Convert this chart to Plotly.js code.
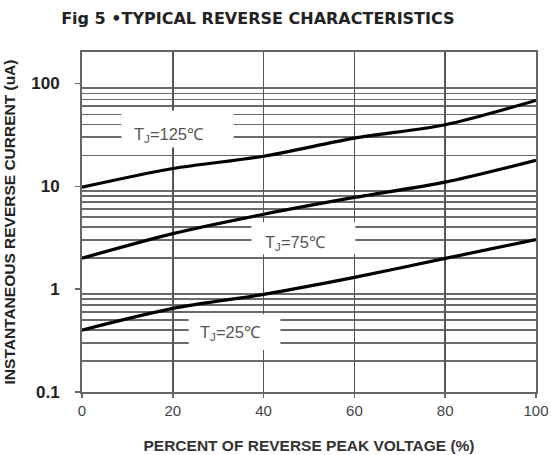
<!DOCTYPE html>
<html>
<head>
<meta charset="utf-8">
<script src="https://cdn.plot.ly/plotly-3.0.1.min.js"></script>
<style>html,body{margin:0;padding:0;background:#fff;}#chart{width:551px;height:455px;}</style>
</head>
<body>
<div id="chart"></div>
<script>
// Percent of reverse peak voltage (%)
const voltagePct = [0, 20, 40, 60, 80, 100];
// Instantaneous reverse current (uA)
const current125 = [9.8, 14.9, 19.6, 29.4, 39.7, 68.4];
const current75 = [2.0, 3.47, 5.35, 7.8, 11.0, 17.9];
const current25 = [0.40, 0.65, 0.89, 1.30, 1.99, 3.04];
const seriesLabels = ['T<sub>J</sub>=125℃', 'T<sub>J</sub>=75℃', 'T<sub>J</sub>=25℃'];
// Label text anchors (x %, current uA)
const labelX = [19.1, 47.0, 32.7];
const labelY = [31.3, 2.8, 0.374];
// White label backgrounds (x %, current uA)
const boxX0 = [8.7, 37.3, 23.5];
const boxX1 = [33.4, 60.2, 43.7];
const boxY0 = [23.9, 2.19, 0.256];
const boxY1 = [54.7, 4.47, 0.571];
const xTickVals = [0, 20, 40, 60, 80, 100];
const yTickVals = [0.1, 1, 10, 100];
const yTickText = ['0.1', '1', '10', '100'];
const yMinorVals = [];
[0.1, 1, 10].forEach(d => { for (let k = 2; k <= 9; k++) yMinorVals.push(+(d * k).toPrecision(3)); });

const lineStyle = {color: '#000', width: 3.2, shape: 'spline', smoothing: 0.8};
const traces = [current125, current75, current25].map(ys => ({
  x: voltagePct, y: ys, type: 'scatter', mode: 'lines', line: lineStyle,
  hoverinfo: 'skip', showlegend: false
}));

const shapes = boxX0.map((x0, i) => ({
  type: 'rect', xref: 'x', yref: 'y', layer: 'above',
  x0: x0, x1: boxX1[i], y0: boxY0[i], y1: boxY1[i],
  fillcolor: '#fff', line: {width: 0}
}));

const annotations = seriesLabels.map((t, i) => ({
  x: labelX[i], y: Math.log10(labelY[i]), xref: 'x', yref: 'y',
  text: t, showarrow: false,
  font: {family: 'Liberation Sans, Arial, sans-serif', size: 16.5, color: '#555'}
}));

const layout = {
  width: 551, height: 455,
  margin: {l: 82, r: 15, t: 52, b: 63},
  paper_bgcolor: '#fff', plot_bgcolor: '#fff',
  title: {
    text: 'Fig 5 •TYPICAL REVERSE CHARACTERISTICS',
    x: 0.468, xanchor: 'center', y: 0.960, yanchor: 'middle',
    font: {family: 'DejaVu Sans, sans-serif', size: 16, color: '#222', weight: 'bold'}
  },
  xaxis: {
    range: [0, 100], tickvals: xTickVals, showgrid: true,
    gridcolor: '#555', gridwidth: 1.5,
    showline: true, linecolor: '#666', linewidth: 2, mirror: true,
    ticks: 'outside', ticklen: 4, tickcolor: '#666', tickwidth: 1.5,
    zeroline: false,
    tickfont: {family: 'Liberation Sans, Arial, sans-serif', size: 15, color: '#444'},
    title: {
      text: 'PERCENT OF REVERSE PEAK VOLTAGE (%)', standoff: 22,
      font: {family: 'Liberation Sans, Arial, sans-serif', size: 15.5, color: '#333', weight: 'bold'}
    }
  },
  yaxis: {
    type: 'log', range: [-1, 2.306],
    tickvals: yTickVals, ticktext: yTickText, showgrid: false,
    showline: true, linecolor: '#666', linewidth: 2, mirror: true,
    ticks: 'outside', ticklen: 5, tickcolor: '#666', tickwidth: 1.5,
    ticklabelstandoff: 12, zeroline: false,
    minor: {tickmode: 'array', tickvals: yMinorVals, showgrid: true, gridcolor: '#6a6a6a', gridwidth: 1.6, ticks: ''},
    tickfont: {family: 'Liberation Sans, Arial, sans-serif', size: 17, color: '#222', weight: 'bold'},
    title: {
      text: 'INSTANTANEOUS REVERSE CURRENT (uA)', standoff: 12,
      font: {family: 'Liberation Sans, Arial, sans-serif', size: 15.5, color: '#222', weight: 'bold'}
    }
  },
  shapes: shapes,
  annotations: annotations
};

Plotly.newPlot('chart', traces, layout, {displayModeBar: false, staticPlot: true});
</script>
</body>
</html>
